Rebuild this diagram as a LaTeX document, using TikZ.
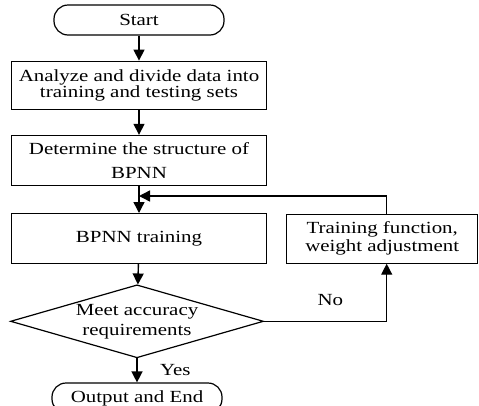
\documentclass[tikz,border=0pt]{standalone}
\usepackage{fontspec}
\setmainfont{Liberation Serif}[FakeStretch=1.23]
\usetikzlibrary{positioning, shapes.geometric, arrows.meta}

\tikzset{
  box/.style={draw, line width=1.2pt, minimum width=255pt, align=center, inner sep=2pt},
  term/.style={draw, line width=1.2pt, rounded corners=14pt, minimum width=170pt, minimum height=30pt},
  test/.style={draw, line width=1.2pt, diamond, aspect=3.47, inner sep=0pt,
               minimum width=253pt, minimum height=73pt, align=center},
  arr/.style={line width=1.4pt, -{Triangle[length=11pt, width=11pt]}}
}

\begin{document}
\begin{tikzpicture}[font=\fontsize{17pt}{16pt}\selectfont]
\useasboundingbox (0pt,0pt) rectangle (479pt,-405pt);

\node (start) [term] at (139pt,-20pt) {Start};
\node (split) [box, minimum height=48pt, below=25pt of start] {Analyze and divide data into\\training and testing sets};
\node (struct) [box, minimum height=50pt, below=25pt of split] {Determine the structure of\\[8pt]BPNN};
\node (train) [box, minimum height=50pt, below=27pt of struct] {BPNN training};
\node (check) [test, below=20pt of train, xshift=-2pt] {Meet accuracy\\[4pt]requirements};
\node (out) [term, below=24pt of check] {Output and End};
\node (adjust) [box, minimum width=191pt, minimum height=49pt, right=19pt of train] {Training function,\\[2pt]weight adjustment};

\coordinate[below=10pt of struct] (join);

\draw[arr] (start) -- (split);
\draw[arr] (split) -- (struct);
\draw[arr] (struct) -- (train);
\draw[arr] (train) -- (check);
\draw[arr] (check) -- (out) node[midway, right=19pt] {Yes};
\draw[arr] (check.east) -| ([xshift=4.5pt]adjust.south) node[pos=0.27, above=12pt] {No};
\draw[arr] ([xshift=4.5pt]adjust.north) |- (join);
\end{tikzpicture}
\end{document}
